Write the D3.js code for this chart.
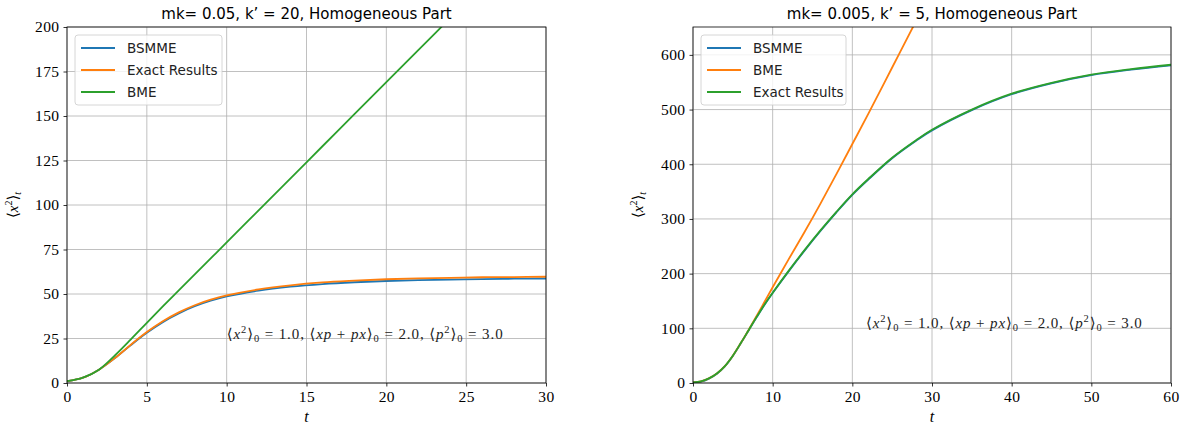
<!DOCTYPE html>
<html>
<head>
<meta charset="utf-8">
<script src="https://cdn.jsdelivr.net/npm/d3@7"></script>
<style>
  body { margin: 0; background: #fff; }
  svg { display: block; }
</style>
</head>
<body>
<div id="viz"></div>
<script>
const width = 1183,
    height = 429;

// left panel: mk = 0.05, k' = 20
const tLeft = [0, 1, 2, 3, 4, 5, 6, 7, 8, 9, 10, 12, 14, 16, 18, 20, 22, 24, 26, 28, 30];
const bsmmeLeft = [1, 3, 7.5, 14, 21.3, 28.2, 34.2, 39.1, 43.1, 46.2, 48.6, 51.9, 54.1, 55.6, 56.6, 57.3, 57.8, 58.1, 58.4, 58.6, 58.7];
const exactLeft = [1, 3, 7.5, 14, 21.5, 28.6, 34.7, 39.7, 43.7, 46.8, 49.2, 52.6, 54.9, 56.5, 57.5, 58.3, 58.8, 59.1, 59.4, 59.5, 59.7];
const bmeLeft = [1, 3, 7.5, 15.5, 24.5, 33.8, 43, 52, 61, 70, 79, 97, 115, 133, 151, 169, 187, 205, 223, 241, 259];

// right panel: mk = 0.005, k' = 5
const tRight = [0, 1, 2, 3, 4, 5, 6, 7, 8, 9, 10, 12, 14, 16, 18, 20, 22, 25, 28, 30, 35, 40, 45, 50, 55, 60];
const bsmmeRight = [1, 2.5, 8, 17, 30.5, 49.5, 72.5, 96.5, 120.5, 143.5, 164.5, 204, 242, 278, 312, 344, 372, 411, 443, 462, 499, 528, 548, 563, 573, 581];
const exactRight = [1, 3, 8.5, 17.5, 31, 50, 73, 97, 121, 144, 165, 205, 243, 279, 313, 345, 373, 412, 444, 463, 500, 529, 549, 564, 574, 582];
const bmeRight = [1, 3, 8.5, 17.5, 31, 50, 73, 97.5, 123, 149, 175, 226, 276, 328, 382, 437, 492, 577, 662, 720, 860, 1000, 1140, 1280, 1420, 1560];

const xTicksLeft = [0, 5, 10, 15, 20, 25, 30];
const yTicksLeft = [0, 25, 50, 75, 100, 125, 150, 175, 200];
const xTicksRight = [0, 10, 20, 30, 40, 50, 60];
const yTicksRight = [0, 100, 200, 300, 400, 500, 600];

const colors = { blue: "#1f77b4", orange: "#ff7f0e", green: "#2ca02c" };

const panels = [
    {
        id: "left",
        title: "mk= 0.05, k\u2019 = 20, Homogeneous Part",
        left: 67, right: 546, top: 27, bottom: 383,
        xDomain: [0, 30], yDomain: [0, 200],
        xTicks: xTicksLeft, yTicks: yTicksLeft,
        series: [
            { name: "BSMME", t: tLeft, v: bsmmeLeft, color: colors.blue },
            { name: "Exact Results", t: tLeft, v: exactLeft, color: colors.orange },
            { name: "BME", t: tLeft, v: bmeLeft, color: colors.green }
        ],
        legend: { x: 75, y: 35, w: 147 },
        note: [10, 25],
        yLabelX: 18
    },
    {
        id: "right",
        title: "mk= 0.005, k\u2019 = 5, Homogeneous Part",
        left: 693, right: 1171, top: 27, bottom: 383,
        xDomain: [0, 60], yDomain: [0, 651],
        xTicks: xTicksRight, yTicks: yTicksRight,
        series: [
            { name: "BSMME", t: tRight, v: bsmmeRight, color: colors.blue },
            { name: "BME", t: tRight, v: bmeRight, color: colors.orange },
            { name: "Exact Results", t: tRight, v: exactRight, color: colors.green }
        ],
        legend: { x: 701, y: 35, w: 145 },
        note: [21.7, 100],
        yLabelX: 643
    }
];

const svg = d3.select("#viz").append("svg")
    .attr("width", width)
    .attr("height", height);

const serif = "'Liberation Serif', 'DejaVu Serif', serif";
const sans = "'DejaVu Sans', 'Liberation Sans', sans-serif";

panels.forEach(p => {
    const x = d3.scaleLinear().domain(p.xDomain).range([p.left, p.right]);
    const y = d3.scaleLinear().domain(p.yDomain).range([p.bottom, p.top]);
    const g = svg.append("g");

    g.append("clipPath").attr("id", "clip-" + p.id)
        .append("rect")
        .attr("x", p.left).attr("y", p.top)
        .attr("width", p.right - p.left).attr("height", p.bottom - p.top);

    // grid
    g.selectAll(".gx").data(p.xTicks).enter().append("line")
        .attr("x1", d => x(d)).attr("x2", d => x(d))
        .attr("y1", p.top).attr("y2", p.bottom)
        .attr("stroke", "#b0b0b0").attr("stroke-width", 0.8);
    g.selectAll(".gy").data(p.yTicks).enter().append("line")
        .attr("x1", p.left).attr("x2", p.right)
        .attr("y1", d => y(d)).attr("y2", d => y(d))
        .attr("stroke", "#b0b0b0").attr("stroke-width", 0.8);

    // lines
    const line = d3.line()
        .x(d => x(d[0]))
        .y(d => y(d[1]))
        .curve(d3.curveCatmullRom.alpha(0.5));

    p.series.forEach(s => {
        g.append("path")
            .datum(s.t.map((t, i) => [t, s.v[i]]))
            .attr("d", line)
            .attr("fill", "none")
            .attr("stroke", s.color)
            .attr("stroke-width", 1.8)
            .attr("clip-path", "url(#clip-" + p.id + ")");
    });

    // axes
    const xAxis = g.append("g")
        .attr("transform", "translate(0," + p.bottom + ")")
        .call(d3.axisBottom(x).tickValues(p.xTicks).tickSize(3.5).tickPadding(4).tickFormat(d3.format("d")));
    const yAxis = g.append("g")
        .attr("transform", "translate(" + p.left + ",0)")
        .call(d3.axisLeft(y).tickValues(p.yTicks).tickSize(3.5).tickPadding(4).tickFormat(d3.format("d")));
    [xAxis, yAxis].forEach(a => {
        a.select(".domain").remove();
        a.selectAll("text").attr("font-family", serif).attr("font-size", 15.5)
            .attr("letter-spacing", 0.4).attr("fill", "#000");
        a.selectAll("line").attr("stroke", "#000").attr("stroke-width", 0.8);
    });

    g.append("rect")
        .attr("x", p.left).attr("y", p.top)
        .attr("width", p.right - p.left).attr("height", p.bottom - p.top)
        .attr("fill", "none").attr("stroke", "#000").attr("stroke-width", 0.8);

    // title
    g.append("text")
        .attr("x", (p.left + p.right) / 2).attr("y", 19)
        .attr("text-anchor", "middle")
        .attr("font-family", sans).attr("font-size", 15)
        .text(p.title);

    // x label
    g.append("text")
        .attr("x", (p.left + p.right) / 2).attr("y", 422)
        .attr("text-anchor", "middle")
        .attr("font-family", serif).attr("font-style", "italic").attr("font-size", 16)
        .text("t");

    // y label
    const yl = g.append("text")
        .attr("transform", "translate(" + p.yLabelX + "," + (p.top + p.bottom) / 2 + ") rotate(-90)")
        .attr("text-anchor", "middle")
        .attr("font-family", serif).attr("font-size", 15);
    yl.append("tspan").text("\u27E8");
    yl.append("tspan").attr("font-style", "italic").text("x");
    yl.append("tspan").attr("font-size", 10).attr("dy", -6).text("2");
    yl.append("tspan").attr("dy", 6).text("\u27E9");
    yl.append("tspan").attr("font-size", 10).attr("font-style", "italic").attr("dy", 3).text("t");

    // annotation
    const nt = g.append("text")
        .attr("x", x(p.note[0])).attr("y", y(p.note[1]))
        .attr("font-family", serif).attr("font-size", 15)
        .attr("letter-spacing", 0.9).attr("fill", "#222");
    const parts = [
        ["\u27E8", null], ["x", "i"], ["2", "sup"], ["\u27E9", null], ["0", "sub"], [" = 1.0, \u27E8", null],
        ["xp", "i"], [" + ", null], ["px", "i"], ["\u27E9", null], ["0", "sub"], [" = 2.0, \u27E8", null],
        ["p", "i"], ["2", "sup"], ["\u27E9", null], ["0", "sub"], [" = 3.0", null]
    ];
    let shift = 0;
    parts.forEach(([txt, kind]) => {
        const ts = nt.append("tspan").text(txt);
        let target = 0;
        if (kind === "sup") target = -6;
        if (kind === "sub") target = 3;
        if (kind === "sup" || kind === "sub") ts.attr("font-size", 10.5);
        if (kind === "i") ts.attr("font-style", "italic");
        if (target !== shift) { ts.attr("dy", target - shift); shift = target; }
    });

    // legend
    const lg = g.append("g");
    const rowH = 22;
    lg.append("rect")
        .attr("x", p.legend.x).attr("y", p.legend.y)
        .attr("width", p.legend.w).attr("height", p.series.length * rowH + 4)
        .attr("rx", 3)
        .attr("fill", "#fff").attr("fill-opacity", 0.8)
        .attr("stroke", "#cccccc").attr("stroke-width", 0.8);
    p.series.forEach((s, i) => {
        const cy = p.legend.y + 13 + i * rowH;
        lg.append("line")
            .attr("x1", p.legend.x + 6).attr("x2", p.legend.x + 40)
            .attr("y1", cy).attr("y2", cy)
            .attr("stroke", s.color).attr("stroke-width", 1.8);
        lg.append("text")
            .attr("x", p.legend.x + 52).attr("y", cy + 5)
            .attr("font-family", sans).attr("font-size", 13.5)
            .attr("fill", "#222")
            .text(s.name);
    });
});
</script>
</body>
</html>
